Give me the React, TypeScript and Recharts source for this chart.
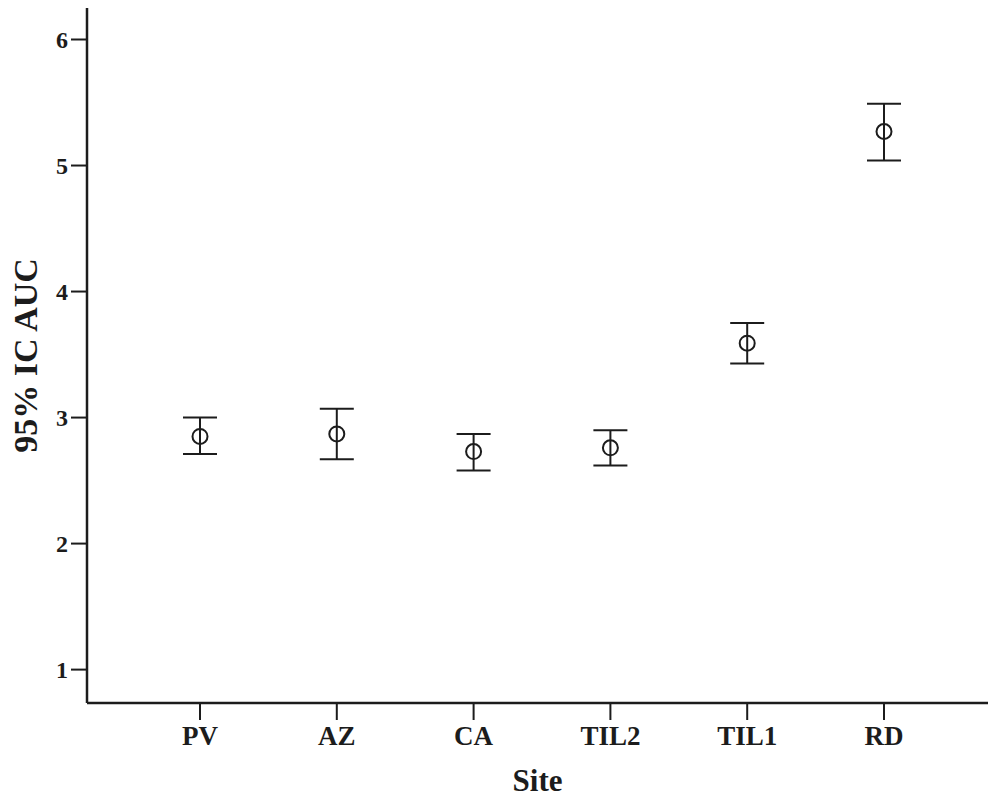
import React from "react";
import {
  ComposedChart,
  Scatter,
  ErrorBar,
  XAxis,
  YAxis,
  Label,
} from "recharts";

const sites = ["PV", "AZ", "CA", "TIL2", "TIL1", "RD"];
const means = [2.85, 2.87, 2.73, 2.76, 3.59, 5.27];
const lowers = [2.71, 2.67, 2.58, 2.62, 3.43, 5.04];
const uppers = [3.0, 3.07, 2.87, 2.9, 3.75, 5.49];
const yTicks = [1, 2, 3, 4, 5, 6];

const data = sites.map((site, i) => ({
  site,
  mean: means[i],
  err: [means[i] - lowers[i], uppers[i] - means[i]],
}));

const ink = "#1c1c1c";
const font = "'Liberation Serif', 'Times New Roman', serif";

const Ring = (props: any) => {
  const { cx, cy } = props;
  return <circle cx={cx} cy={cy} r={7.5} fill="none" stroke={ink} strokeWidth={2} />;
};

export default function App() {
  return (
    <div style={{ position: "absolute", left: 0, top: 0, background: "#fff" }}>
      <ComposedChart
        width={988}
        height={797}
        data={data}
        margin={{ top: 8, right: 0, bottom: 0, left: 27 }}
      >
        <XAxis
          dataKey="site"
          type="category"
          scale="point"
          height={94}
          padding={{ left: 113, right: 104 }}
          axisLine={{ stroke: ink, strokeWidth: 2.5 }}
          tickLine={{ stroke: ink, strokeWidth: 2 }}
          tickSize={17}
          tickMargin={6}
          tick={{ fontSize: 27, fontWeight: "bold", fill: ink, fontFamily: font }}
        >
          <Label
            value="Site"
            position="insideBottom"
            offset={6}
            style={{ fontSize: 31, fontWeight: "bold", fill: ink, fontFamily: font }}
          />
        </XAxis>
        <YAxis
          type="number"
          domain={[0.735, 6.25]}
          ticks={yTicks}
          width={60}
          allowDataOverflow
          axisLine={{ stroke: ink, strokeWidth: 2.5 }}
          tickLine={{ stroke: ink, strokeWidth: 2 }}
          tickSize={16}
          tickMargin={3}
          tick={{ fontSize: 24, fontWeight: "bold", fill: ink, fontFamily: font }}
        >
          <Label
            value="95% IC AUC"
            angle={-90}
            position="insideLeft"
            offset={-2}
            style={{ textAnchor: "middle", fontSize: 34, fontWeight: "bold", fill: ink, fontFamily: font }}
          />
        </YAxis>
        <Scatter dataKey="mean" shape={<Ring />} isAnimationActive={false}>
          <ErrorBar
            dataKey="err"
            direction="y"
            width={17}
            stroke={ink}
            strokeWidth={2}
            isAnimationActive={false}
          />
        </Scatter>
      </ComposedChart>
    </div>
  );
}
